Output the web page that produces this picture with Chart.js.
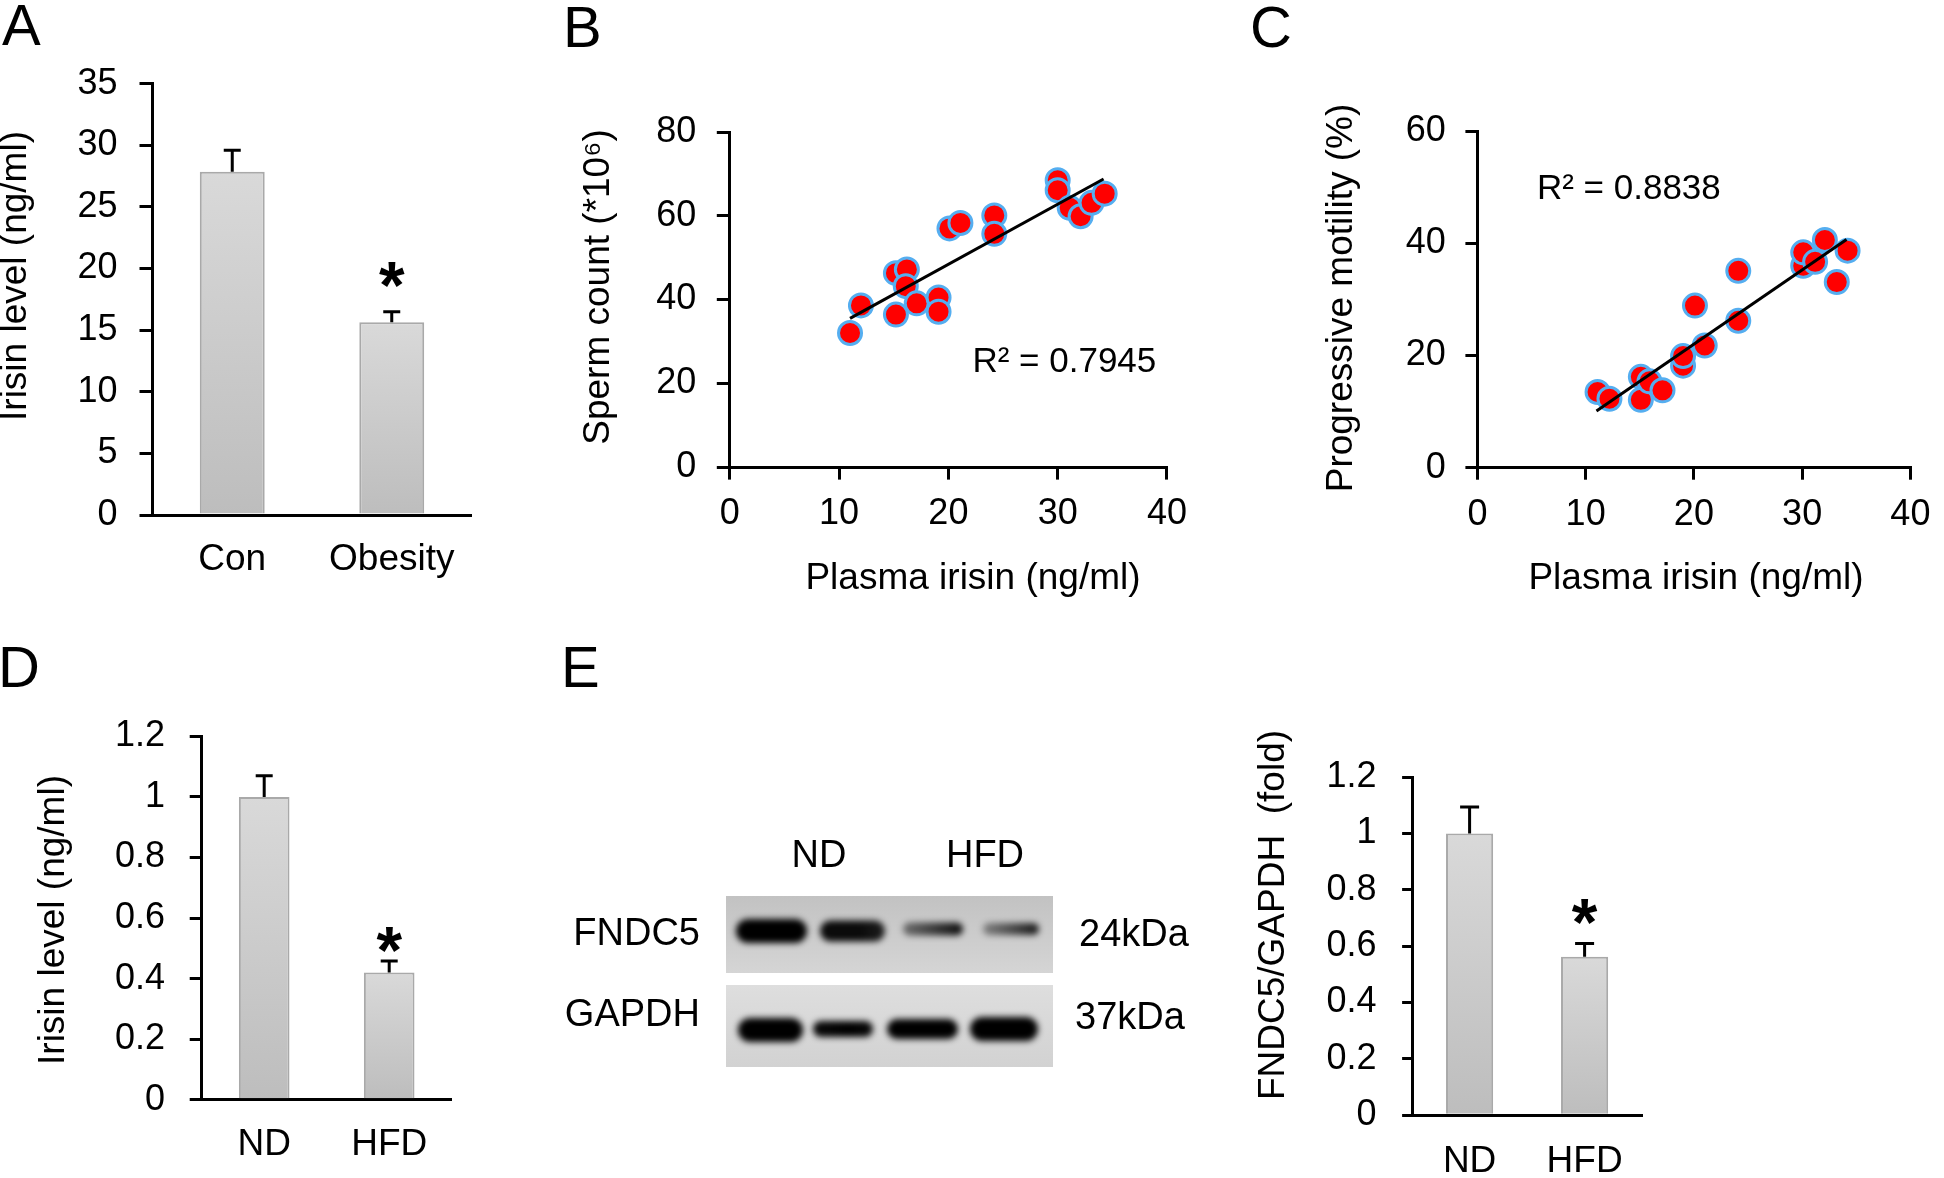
<!DOCTYPE html>
<html>
<head>
<meta charset="utf-8">
<script src="https://cdn.jsdelivr.net/npm/chart.js@4.4.1/dist/chart.umd.min.js"></script>
<style>
  html, body { margin: 0; padding: 0; background: #fff; }
  body { width: 1944px; height: 1178px; position: relative; overflow: hidden; }
  #figure { position: absolute; left: 0; top: 0; }
  .panel { position: absolute; }
</style>
</head>
<body>
<canvas id="figure" width="1944" height="1178"></canvas>
<div class="panel"><canvas id="chartA"></canvas></div>
<div class="panel"><canvas id="chartB"></canvas></div>
<div class="panel"><canvas id="chartC"></canvas></div>
<div class="panel"><canvas id="chartD"></canvas></div>
<div class="panel"><canvas id="chartE"></canvas></div>
<script>
// A - plasma irisin, patients
let catsA = ['Con', 'Obesity']
let irisinA = [27.85, 15.64]
let semA = [1.75, 0.86]
let yTicksA = [0, 5, 10, 15, 20, 25, 30, 35]

// B - sperm count vs irisin
let irisinB = [11.0, 12.0, 15.2, 15.2, 16.2, 16.1, 17.1, 19.1, 19.1, 20.1, 21.1, 24.2, 24.2, 30.0, 30.0, 31.1, 32.1, 33.1, 34.3]
let spermB = [32.0, 38.6, 36.4, 46.3, 47.2, 43.2, 39.1, 40.5, 37.1, 57.0, 58.3, 60.1, 55.7, 68.5, 66.1, 61.9, 59.9, 63.1, 65.3]
let trendXB = [11.0, 34.2]
let trendYB = [35.5, 68.8]
let xTicksB = [0, 10, 20, 30, 40]
let yTicksB = [0, 20, 40, 60, 80]

// C - progressive motility vs irisin
let irisinC = [11.1, 12.2, 15.1, 15.1, 15.9, 17.1, 19.0, 19.0, 20.1, 21.0, 24.1, 24.1, 30.1, 30.1, 31.2, 32.1, 33.2, 34.2]
let motilityC = [13.5, 12.3, 16.2, 12.1, 15.4, 13.8, 18.2, 19.9, 28.9, 21.8, 35.1, 26.2, 36.0, 38.4, 36.7, 40.6, 33.1, 38.7]
let trendXC = [11.0, 34.1]
let trendYC = [10.1, 40.7]
let xTicksC = [0, 10, 20, 30, 40]
let yTicksC = [0, 20, 40, 60]

// D - irisin in mice
let catsD = ['ND', 'HFD']
let irisinD = [1.0, 0.42]
let semD = [0.07, 0.038]
let yTicksD = [0, 0.2, 0.4, 0.6, 0.8, 1, 1.2]

// E - FNDC5/GAPDH
let catsE = ['ND', 'HFD']
let ratioE = [1.0, 0.563]
let semE = [0.094, 0.047]
let yTicksE = [0, 0.2, 0.4, 0.6, 0.8, 1, 1.2]
let fndc5Bands = [1, 0.95, 0.8, 0.7]
let gapdhBands = [1, 0.95, 1, 1]

const FONT = "'Liberation Sans', Arial, sans-serif"
Chart.defaults.font.family = FONT
Chart.defaults.color = '#000'

// bar fill: light gray, darker towards the base
function grayFill(c) {
  const chart = c.chart
  const y = chart.scales.y
  if (!chart.chartArea || !y) return '#cccccc'
  const top = y.getPixelForValue(c.raw)
  const bottom = y.getPixelForValue(0)
  if (!isFinite(top) || !isFinite(bottom) || top === bottom) return '#cccccc'
  const g = chart.ctx.createLinearGradient(0, top, 0, bottom)
  g.addColorStop(0, '#d9d9d9')
  g.addColorStop(1, '#bdbdbd')
  return g
}

// error bars (upper only) and the significance star
const errorBars = {
  id: 'errorBars',
  afterDatasetsDraw(chart, args, opts) {
    const { ctx } = chart
    const y = chart.scales.y
    const ds = chart.data.datasets[0]
    const meta = chart.getDatasetMeta(0)
    ctx.save()
    ctx.strokeStyle = '#000'
    ctx.lineWidth = 3
    meta.data.forEach((bar, i) => {
      const top = y.getPixelForValue(ds.data[i])
      const end = y.getPixelForValue(ds.data[i] + opts.sem[i])
      ctx.beginPath()
      ctx.moveTo(bar.x, top)
      ctx.lineTo(bar.x, end)
      ctx.moveTo(bar.x - opts.cap / 2, end)
      ctx.lineTo(bar.x + opts.cap / 2, end)
      ctx.stroke()
      if (opts.stars[i]) {
        ctx.font = 'bold 100px ' + FONT
        let m = ctx.measureText('*')
        const size = 100 * opts.starSize / (m.actualBoundingBoxAscent + m.actualBoundingBoxDescent)
        ctx.font = 'bold ' + size + 'px ' + FONT
        m = ctx.measureText('*')
        const cy = end - opts.starGap
        ctx.fillStyle = '#000'
        ctx.textAlign = 'center'
        ctx.textBaseline = 'alphabetic'
        ctx.fillText('*', bar.x, cy + (m.actualBoundingBoxAscent - m.actualBoundingBoxDescent) / 2)
      }
    })
    ctx.restore()
  }
}

// R² label placed in data units
const r2Label = {
  id: 'r2Label',
  afterDraw(chart, args, opts) {
    const { ctx, scales: { x, y } } = chart
    ctx.save()
    ctx.font = '35px ' + FONT
    ctx.fillStyle = '#000'
    ctx.textAlign = 'left'
    ctx.textBaseline = 'alphabetic'
    ctx.fillText(opts.text, x.getPixelForValue(opts.at[0]), y.getPixelForValue(opts.at[1]) + 0.358 * 35)
    ctx.restore()
  }
}

function place(id, box) {
  const holder = document.getElementById(id).parentNode
  holder.style.left = box[0] + 'px'
  holder.style.top = box[1] + 'px'
  holder.style.width = box[2] + 'px'
  holder.style.height = box[3] + 'px'
}

function valueAxis(ticksArr, box, area, tl, pad, horizontal) {
  return {
    type: 'linear',
    min: ticksArr[0],
    max: ticksArr[ticksArr.length - 1],
    afterBuildTicks: s => { s.ticks = ticksArr.map(v => ({ value: v })) },
    grid: { drawOnChartArea: false, color: '#000', lineWidth: 3, tickLength: tl },
    border: { color: '#000', width: 3 },
    ticks: { color: '#000', font: { size: 36 }, padding: pad, callback: v => String(v), maxRotation: 0 },
    afterFit: horizontal
      ? s => { s.height = box[1] + box[3] - area[3] }
      : s => { s.width = area[0] - box[0] }
  }
}

function barChart(id, box, area, cats, vals, sem, yTicks, o) {
  place(id, box)
  return new Chart(document.getElementById(id), {
    type: 'bar',
    data: {
      labels: cats,
      datasets: [{
        data: vals,
        backgroundColor: grayFill,
        borderColor: '#a9a9a9',
        borderWidth: 2,
        barPercentage: o.barPct,
        categoryPercentage: 1
      }]
    },
    options: {
      responsive: true,
      maintainAspectRatio: false,
      animation: false,
      layout: { padding: { left: 0, top: area[1] - box[1], right: box[0] + box[2] - area[2], bottom: 0 } },
      plugins: {
        legend: { display: false },
        tooltip: { enabled: false },
        errorBars: { sem: sem, cap: o.cap, stars: [false, true], starGap: o.starGap, starSize: 25 }
      },
      scales: {
        x: {
          grid: { display: false, drawTicks: false },
          border: { color: '#000', width: 3 },
          ticks: { color: '#000', font: { size: 37 }, padding: o.xPad },
          afterFit: s => { s.height = box[1] + box[3] - area[3] }
        },
        y: valueAxis(yTicks, box, area, o.tl, o.yPad, false)
      }
    },
    plugins: [errorBars]
  })
}

function scatterChart(id, box, area, xs, ys, tx, ty, xTicks, yTicks, o) {
  place(id, box)
  return new Chart(document.getElementById(id), {
    type: 'scatter',
    data: {
      datasets: [
        {
          data: tx.map((v, i) => ({ x: v, y: ty[i] })),
          showLine: true,
          borderColor: '#000',
          borderWidth: 3,
          pointRadius: 0
        },
        {
          data: xs.map((v, i) => ({ x: v, y: ys[i] })),
          pointRadius: 11.5,
          pointBackgroundColor: '#ff0000',
          pointBorderColor: '#55aef0',
          pointBorderWidth: 3
        }
      ]
    },
    options: {
      responsive: true,
      maintainAspectRatio: false,
      animation: false,
      layout: { padding: { left: 0, top: area[1] - box[1], right: box[0] + box[2] - area[2], bottom: 0 } },
      plugins: {
        legend: { display: false },
        tooltip: { enabled: false },
        r2Label: { text: o.r2, at: o.r2At }
      },
      scales: {
        x: valueAxis(xTicks, box, area, o.xtl, o.xPad, true),
        y: valueAxis(yTicks, box, area, o.ytl, o.yPad, false)
      }
    },
    plugins: [r2Label]
  })
}

barChart('chartA', [60, 40, 440, 560], [152.5, 78, 471.5, 515], catsA, irisinA, semA, yTicksA,
  { tl: 13, yPad: 22, xPad: 23, barPct: 0.407, cap: 17, starGap: 37 })
barChart('chartD', [100, 690, 380, 488], [201.7, 730.9, 451.7, 1099.8], catsD, irisinD, semD, yTicksD,
  { tl: 12, yPad: 24.7, xPad: 22.7, barPct: 0.405, cap: 17, starGap: 22 })
barChart('chartE', [1310, 730, 360, 448], [1412.1, 769.7, 1642.1, 1115.3], catsE, ratioE, semE, yTicksE,
  { tl: 10, yPad: 25.5, xPad: 24.3, barPct: 0.41, cap: 19, starGap: 32 })
scatterChart('chartB', [640, 90, 560, 455], [729.8, 129.2, 1171.8, 467], irisinB, spermB, trendXB, trendYB, xTicksB, yTicksB,
  { ytl: 13, yPad: 20.5, xtl: 12.6, xPad: 13, r2: 'R² = 0.7945', r2At: [22.2, 25.6] })
scatterChart('chartC', [1400, 90, 544, 455], [1477.4, 128.2, 1920.1, 467.7], irisinC, motilityC, trendXC, trendYC, xTicksC, yTicksC,
  { ytl: 12, yPad: 19.6, xtl: 12, xPad: 13.6, r2: 'R² = 0.8838', r2At: [5.5, 50.2] })

// static parts: panel letters, axis titles, western blot
const fig = document.getElementById('figure').getContext('2d')

function label(str, x, y, size, align, rotate) {
  fig.save()
  fig.font = size + 'px ' + FONT
  fig.fillStyle = '#000'
  fig.textAlign = align
  fig.textBaseline = 'alphabetic'
  fig.translate(x, y)
  if (rotate) fig.rotate(-Math.PI / 2)
  fig.fillText(str, 0, 0)
  fig.restore()
}

function band(x0, x1, yc, h, aL, aR) {
  const g = fig.createLinearGradient(x0, 0, x1, 0)
  g.addColorStop(0, 'rgba(0,0,0,' + aL + ')')
  g.addColorStop(0.6, 'rgba(0,0,0,' + Math.min(1, (aL + aR) / 2 + 0.05) + ')')
  g.addColorStop(1, 'rgba(0,0,0,' + aR + ')')
  fig.save()
  fig.filter = 'blur(3px)'
  fig.fillStyle = g
  fig.beginPath()
  fig.roundRect(x0 + 1, yc - h / 2 + 1, x1 - x0 - 2, h - 2, (h - 2) / 2)
  fig.fill()
  fig.restore()
}

function drawFigure() {
  label('A', 2, 45, 58, 'left')
  label('B', 563, 47, 58, 'left')
  label('C', 1250, 47, 58, 'left')
  label('D', -2, 687, 58, 'left')
  label('E', 561, 687, 58, 'left')

  label('Irisin level (ng/ml)', 26, 276, 37, 'center', true)
  label('Sperm count (*10⁶)', 609, 287, 37, 'center', true)
  label('Progressive motility (%)', 1352, 298, 37, 'center', true)
  label('Irisin level (ng/ml)', 64, 920, 37, 'center', true)
  label('FNDC5/GAPDH  (fold)', 1284, 915, 37, 'center', true)
  label('Plasma irisin (ng/ml)', 973, 589, 37, 'center')
  label('Plasma irisin (ng/ml)', 1696, 589, 37, 'center')

  // blot membranes
  let g = fig.createLinearGradient(0, 896, 0, 973)
  g.addColorStop(0, '#c2c2c2')
  g.addColorStop(1, '#d5d5d5')
  fig.fillStyle = g
  fig.fillRect(726, 896, 327, 77)
  g = fig.createLinearGradient(0, 985, 0, 1067)
  g.addColorStop(0, '#dedede')
  g.addColorStop(1, '#d2d2d2')
  fig.fillStyle = g
  fig.fillRect(726, 985, 327, 82)

  const f = fndc5Bands
  band(735, 808, 931, 26, f[0], f[0])
  band(819, 886, 931, 23, f[1], f[1] - 0.1)
  band(902, 964, 929, 15, f[2] - 0.35, Math.min(1, f[2] + 0.15))
  band(982, 1040, 929, 14, f[3] - 0.35, Math.min(1, f[3] + 0.2))
  const p = gapdhBands
  band(737, 804, 1030, 26, p[0], p[0])
  band(812, 874, 1029, 18, p[1], p[1])
  band(886, 959, 1029, 22, p[2], p[2])
  band(969, 1039, 1029, 26, p[3], p[3])

  label('ND', 819, 867, 38, 'center')
  label('HFD', 985, 867, 38, 'center')
  label('FNDC5', 700, 945, 38, 'right')
  label('GAPDH', 700, 1026, 38, 'right')
  label('24kDa', 1079, 946, 38, 'left')
  label('37kDa', 1075, 1029, 38, 'left')
}

drawFigure()
</script>
</body>
</html>
